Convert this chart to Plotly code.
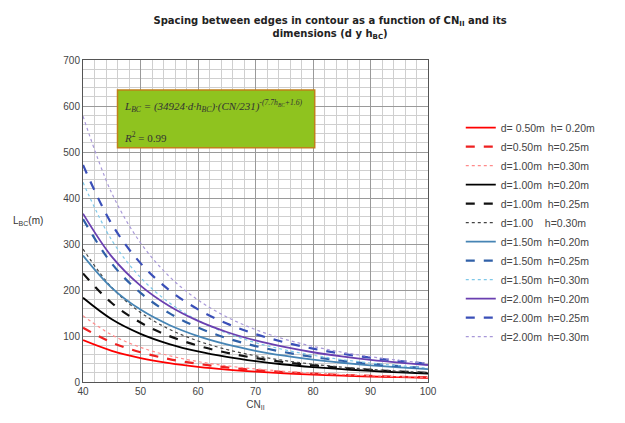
import plotly.graph_objects as go

cn = [40, 45, 50, 55, 60, 65, 70, 75, 80, 85, 90, 95, 100]

labels = [
    "d= 0.50m  h= 0.20m",
    "d=0.50m  h=0.25m",
    "d=1.00m  h=0.30m",
    "d=1.00m  h=0.20m",
    "d=1.00m  h=0.25m",
    "d=1.00    h=0.30m",
    "d=1.50m  h=0.20m",
    "d=1.50m  h=0.25m",
    "d=1.50m  h=0.30m",
    "d=2.00m  h=0.20m",
    "d=2.00m  h=0.25m",
    "d=2.00m  h=0.30m",
]

s01 = [91, 67.8, 52.1, 41.0, 33.0, 27.0, 22.5, 18.9, 16.1, 13.8, 12.0, 10.5, 9.2]
s02 = [118, 85.8, 64.6, 49.9, 39.5, 31.8, 26.0, 21.6, 18.2, 15.4, 13.2, 11.4, 9.9]
s03 = [144, 102.3, 75.4, 57.2, 44.4, 35.2, 28.4, 23.3, 19.3, 16.2, 13.7, 11.7, 10.1]
s04 = [183, 136.3, 104.7, 82.5, 66.4, 54.4, 45.2, 38.0, 32.4, 27.8, 24.1, 21.0, 18.5]
s05 = [236, 171.7, 129.2, 99.9, 79.0, 63.6, 52.1, 43.2, 36.3, 30.8, 26.4, 22.8, 19.9]
s06 = [289, 205.4, 151.3, 114.8, 89.2, 70.7, 57.0, 46.7, 38.7, 32.5, 27.5, 23.5, 20.3]
s07 = [275, 204.8, 157.4, 124.0, 99.8, 81.7, 67.9, 57.1, 48.6, 41.8, 36.2, 31.6, 27.8]
s08 = [354, 257.5, 193.8, 149.8, 118.4, 95.4, 78.1, 64.9, 54.5, 46.2, 39.6, 34.3, 29.8]
s09 = [434, 308.4, 227.2, 172.3, 133.9, 106.2, 85.6, 70.1, 58.2, 48.8, 41.3, 35.3, 30.5]
s10 = [366, 272.6, 209.5, 165.1, 132.8, 108.7, 90.3, 76.1, 64.7, 55.6, 48.2, 42.1, 37.0]
s11 = [472, 343.4, 258.4, 199.8, 157.9, 127.3, 104.2, 86.5, 72.6, 61.6, 52.9, 45.7, 39.7]
s12 = [578, 410.7, 302.6, 229.5, 178.3, 141.4, 114.0, 93.3, 77.5, 65.0, 55.0, 47.0, 40.6]

series = [s01, s02, s03, s04, s05, s06, s07, s08, s09, s10, s11, s12]

colors = ["#ff0000", "#ee2020", "#ff8a8a",
          "#000000", "#111111", "#444444",
          "#4684b4", "#3060a8", "#7fc8e8",
          "#6a3fb0", "#3a4fb8", "#a898d8"]
dashes = ["solid", "dash", "dot"] * 4
widths = [1.8, 2.2, 1.2] * 4

fig = go.Figure()
for lab, ys, c, d, w in zip(labels, series, colors, dashes, widths):
    fig.add_trace(go.Scatter(
        x=cn, y=ys, name=lab, mode="lines",
        line=dict(color=c, dash=d, width=w, shape="spline"),
    ))

fig.update_layout(
    width=617, height=415,
    margin=dict(l=75, r=197, t=52, b=41),
    paper_bgcolor="white", plot_bgcolor="white",
    font=dict(family="Liberation Sans, Arial, sans-serif", size=10, color="#333333"),
    title=dict(
        text="<b>Spacing between edges in contour as a function of CN<sub>II</sub> and its<br>dimensions (d y h<sub>BC</sub>)</b>",
        x=0.522, xanchor="center", y=0.962, yanchor="middle",
        font=dict(family="DejaVu Sans, Verdana, sans-serif", size=10, color="#222222"),
    ),
    showlegend=True,
    legend=dict(
        x=1.095, y=0.835, xanchor="left", yanchor="top",
        font=dict(size=10.5, color="#444444"),
        bgcolor="rgba(0,0,0,0)", tracegroupgap=0,
    ),
)

fig.update_xaxes(
    range=[40, 100], dtick=10, tick0=40,
    showgrid=True, gridcolor="#9a9a9a", gridwidth=1,
    minor=dict(dtick=2, showgrid=True, gridcolor="#cfcfcf", gridwidth=1),
    showline=True, linecolor="#555555", linewidth=1, mirror=True,
    zeroline=False, ticks="", tickfont=dict(size=10, color="#444444"),
    title=dict(text="CN<sub>II</sub>", font=dict(size=10, color="#444444"), standoff=4),
)
fig.update_yaxes(
    range=[0, 700], dtick=100,
    showgrid=True, gridcolor="#9a9a9a", gridwidth=1,
    minor=dict(dtick=20, showgrid=True, gridcolor="#cfcfcf", gridwidth=1),
    showline=True, linecolor="#555555", linewidth=1, mirror=True,
    zeroline=False, ticks="", tickfont=dict(size=10, color="#444444"),
    title=None,
)

fig.add_annotation(
    text="L<sub>BC</sub>(m)", xref="paper", yref="paper",
    x=-0.11, y=0.5, xanchor="right", yanchor="middle", showarrow=False,
    font=dict(size=10, color="#333333"),
)

fig.add_shape(type="rect", xref="x", yref="y", x0=46, x1=80.3, y0=509, y1=635,
              fillcolor="#8fc31f", line=dict(color="#c0801a", width=1.5), layer="above")
fig.add_annotation(
    text="<i>L<sub>BC</sub> = (34924·d·h<sub>BC</sub>)·(CN/231)<sup>-(7.7h<sub>BC</sub>+1.6)</sup></i>",
    xref="x", yref="y", x=46.8, y=600, xanchor="left", yanchor="middle",
    showarrow=False, font=dict(family="Liberation Serif, Times New Roman, serif", size=11, color="#333333"),
)
fig.add_annotation(
    text="<i>R</i><sup>2</sup> = 0.99", xref="x", yref="y", x=46.8, y=532,
    xanchor="left", yanchor="middle", showarrow=False,
    font=dict(family="Liberation Serif, Times New Roman, serif", size=11, color="#333333"),
)

fig.write_html("out.html")
